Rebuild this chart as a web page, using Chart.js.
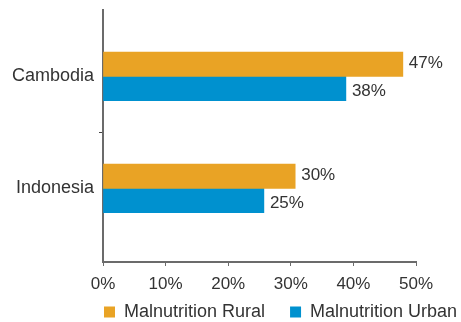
<!DOCTYPE html>
<html>
<head>
<meta charset="utf-8">
<script src="https://cdn.jsdelivr.net/npm/chart.js@4.4.1/dist/chart.umd.min.js"></script>
<style>
  html, body { margin: 0; padding: 0; background: #ffffff; }
  #wrap { width: 461px; height: 322px; }
</style>
</head>
<body>
<div id="wrap"><canvas id="c" width="461" height="322"></canvas></div>
<script>
// ---- data ----
const categories = ['Cambodia', 'Indonesia'];
const seriesNames = ['Malnutrition Rural', 'Malnutrition Urban'];
const ruralValues = [47.9, 30.7];
const urbanValues = [38.8, 25.7];
const xTickStep = 10;
const xMin = 0;
const xMax = 50;

const FONT = "'Liberation Sans', Arial, Helvetica, sans-serif";
const TEXT = '#333333';
const AXIS = '#6b6b6b';
const COLORS = ['#E9A325', '#0091CF'];

const toPoints = vals => vals.map((v, i) => ({ x: v, y: i }));
// tick labels may overhang their (narrow) scale boxes: do not clip them
const noLabelClip = s => { s._computeLabelArea = () => undefined; };

const valueLabels = {
  id: 'valueLabels',
  afterDatasetsDraw(chart) {
    const ctx = chart.ctx;
    ctx.save();
    ctx.font = '17px ' + FONT;
    ctx.fillStyle = TEXT;
    ctx.textAlign = 'left';
    ctx.textBaseline = 'middle';
    chart.data.datasets.forEach((ds, di) => {
      const meta = chart.getDatasetMeta(di);
      meta.data.forEach((bar, i) => {
        const v = ds.data[i].x;
        ctx.fillText(Math.floor(v) + '%', bar.x + 6, bar.y + (di === 0 ? -1 : 3));
      });
    });
    ctx.restore();
  }
};

new Chart(document.getElementById('c'), {
  type: 'bar',
  data: {
    datasets: [
      { label: seriesNames[0], data: toPoints(ruralValues), backgroundColor: COLORS[0], borderWidth: 0 },
      { label: seriesNames[1], data: toPoints(urbanValues), backgroundColor: COLORS[1], borderWidth: 0 }
    ]
  },
  options: {
    indexAxis: 'y',
    responsive: false,
    animation: false,
    devicePixelRatio: 1,
    barThickness: 24.3,
    layout: { padding: { left: 79, right: -30, top: 10, bottom: 0 } },
    scales: {
      x: {
        type: 'linear',
        position: 'bottom',
        min: xMin,
        max: xMax,
        ticks: {
          stepSize: xTickStep,
          color: TEXT,
          font: { family: FONT, size: 17 },
          padding: 8,
          callback: v => v + '%'
        },
        grid: { drawOnChartArea: false, tickLength: 4, color: AXIS },
        border: { display: true, color: AXIS, width: 2 },
        afterFit: s => { s.height = 16; s.paddingLeft = 0; s.paddingRight = 45; noLabelClip(s); }
      },
      y: {
        type: 'linear',
        reverse: true,
        offset: false,
        min: -0.592,
        max: 1.658,
        afterBuildTicks: s => {
          const t = [];
          categories.forEach((c, i) => {
            t.push({ value: i });
            if (i < categories.length - 1) t.push({ value: i + 0.5 });
          });
          s.ticks = t;
        },
        ticks: {
          autoSkip: false,
          color: TEXT,
          font: { family: FONT, size: 18 },
          padding: 5,
          callback: v => Number.isInteger(v) ? categories[v] : ''
        },
        grid: {
          offset: false,
          drawOnChartArea: false,
          tickLength: 4,
          color: c => (c.tick && !Number.isInteger(c.tick.value)) ? '#444444' : 'rgba(0,0,0,0)'
        },
        border: { display: true, color: AXIS, width: 2 },
        afterFit: s => { s.width = 24; s.paddingTop = 0; s.paddingBottom = 0; noLabelClip(s); }
      }
    },
    plugins: {
      tooltip: { enabled: false },
      legend: {
        display: true,
        position: 'bottom',
        align: 'start',
        maxHeight: 44,
        labels: {
          boxWidth: 11,
          boxHeight: 11,
          padding: 25,
          color: TEXT,
          font: { family: FONT, size: 18 }
        }
      }
    }
  },
  plugins: [valueLabels]
});
</script>
</body>
</html>
